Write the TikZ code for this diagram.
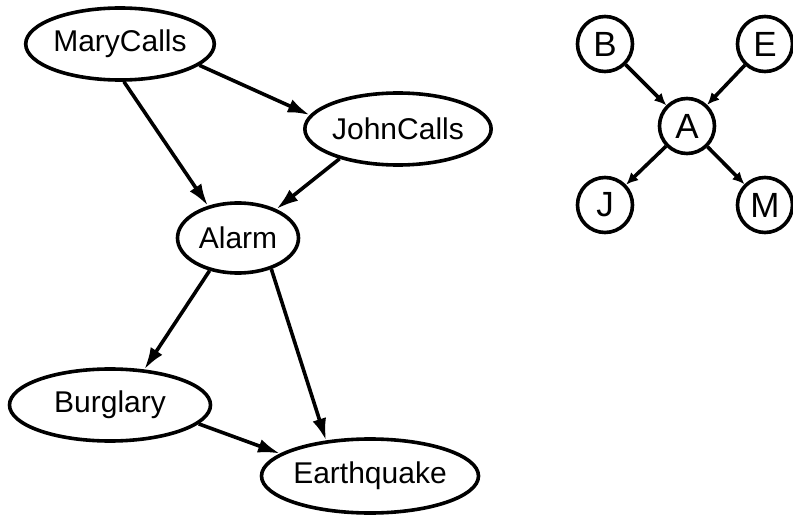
\documentclass[tikz,border=0pt]{standalone}
\usepackage{fontspec}
\setmainfont{Liberation Sans}
\usetikzlibrary{shapes.geometric,arrows.meta}
\begin{document}
\begin{tikzpicture}[x=1pt,y=-1pt,
  ell/.style={ellipse,draw,line width=3.6pt,inner sep=0pt,font=\fontsize{30}{36}\selectfont},
  circ/.style={circle,draw,line width=3.6pt,inner sep=0pt,minimum size=55pt,font=\fontsize{35}{40}\selectfont},
  edge/.style={line width=3.6pt,-{Latex[length=22pt,width=14pt]}},
  sedge/.style={line width=3.6pt,-{Latex[length=12pt,width=11pt]}}]
\useasboundingbox (0,0) rectangle (793,516);
\node[ell,minimum width=183pt,minimum height=72pt] (mary) at (120,44) {MaryCalls};
\node[ell,minimum width=181pt,minimum height=72pt] (john) at (398,129) {JohnCalls};
\node[ell,minimum width=121pt,minimum height=70pt] (alarm) at (238,238) {Alarm};
\node[ell,minimum width=201pt,minimum height=72pt] (burg) at (110,405) {Burglary};
\node[ell,minimum width=201pt,minimum height=74pt] (earth) at (370,476) {Earthquake};
\draw[edge] (mary.-84) -- (alarm.133);
\draw[edge] (mary.-15) -- (john.171);
\draw[edge] (john.207) -- (alarm.37);
\draw[edge] (alarm.-131) -- (burg.46);
\draw[edge] (alarm.-43) -- (earth.141);
\draw[edge] (burg.-12) -- (earth.166);
\node[circ] (B) at (605,44) {B};
\node[circ] (E) at (765,44) {E};
\node[circ] (A) at (687,126) {A};
\node[circ] (J) at (605,205) {J};
\node[circ] (M) at (765,205) {M};
\draw[sedge] (B) -- (A);
\draw[sedge] (E) -- (A);
\draw[sedge] (A) -- (J);
\draw[sedge] (A) -- (M);
\end{tikzpicture}
\end{document}
